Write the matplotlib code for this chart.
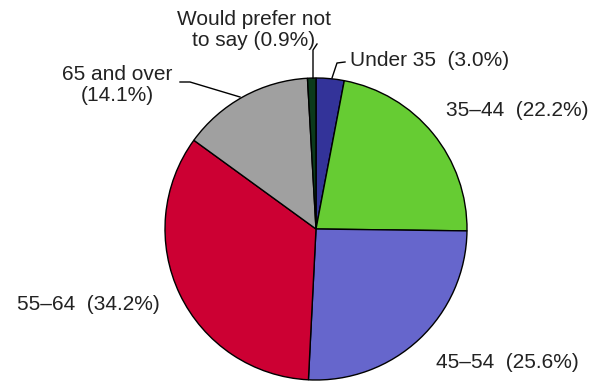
import matplotlib
matplotlib.use("Agg")
import matplotlib.pyplot as plt

categories = ["Under 35", "35\u201344", "45\u201354", "55\u201364", "65 and over", "Would prefer not to say"]
values = [3.0, 22.2, 25.6, 34.2, 14.1, 0.9]
colors = ["#333399", "#66CC33", "#6666CC", "#CC0033", "#A0A0A0", "#0B3A1C"]
labels = ["Under 35  (3.0%)", "35\u201344  (22.2%)", "45\u201354  (25.6%)", "55\u201364  (34.2%)",
          "65 and over\n(14.1%)", "Would prefer not\nto say (0.9%)"]

W, H = 596, 381
fig = plt.figure(figsize=(W / 100, H / 100), dpi=100)
ax = fig.add_axes([0, 0, 1, 1])

def Y(py):
    return H - py

ax.pie(values, colors=colors, startangle=90, counterclock=False,
       center=(316, Y(229)), radius=151,
       wedgeprops=dict(edgecolor="black", linewidth=1.0))
ax.set_xlim(0, W)
ax.set_ylim(0, H)
ax.set_aspect("equal")
ax.axis("off")

fs = 15
fam = ["Liberation Sans", "DejaVu Sans"]
tk = dict(fontsize=fs, family=fam, color="#222222", linespacing=1.08)

ax.text(254, Y(30), labels[5], ha="center", va="center", **tk)
ax.text(430, Y(61), labels[0], ha="center", va="center", **tk)
ax.text(517, Y(110), labels[1], ha="center", va="center", **tk)
ax.text(507, Y(363), labels[2], ha="center", va="center", **tk)
ax.text(88, Y(305), labels[3], ha="center", va="center", **tk)
ax.text(117, Y(85), labels[4], ha="center", va="center", **tk)

lk = dict(color="black", linewidth=1.0)
ax.plot([317, 313, 313], [Y(44), Y(50), Y(78)], **lk)
ax.plot([345, 337, 332], [Y(62), Y(63), Y(78)], **lk)
ax.plot([180, 190, 240], [Y(82), Y(82), Y(97)], **lk)

fig.savefig("out.png", dpi=100)
